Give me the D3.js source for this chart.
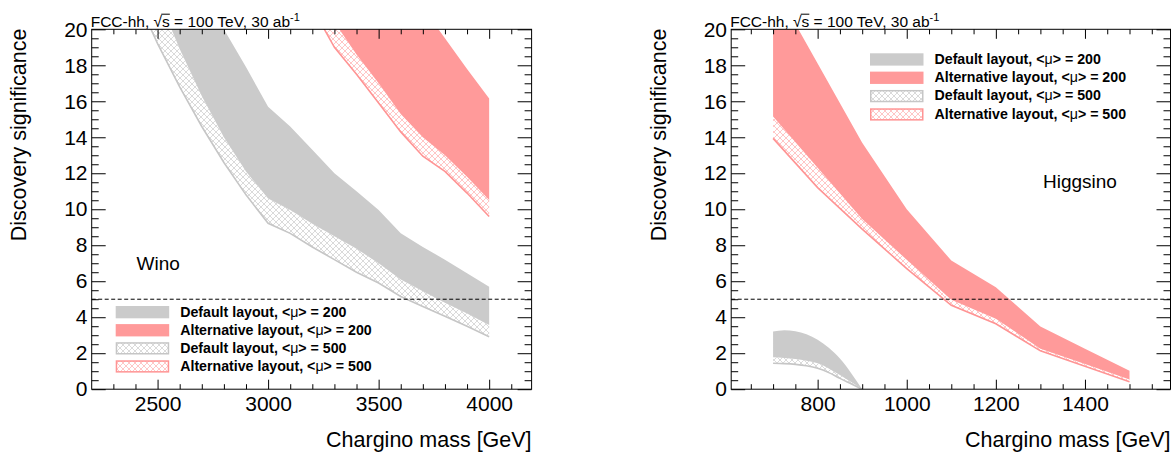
<!DOCTYPE html>
<html><head><meta charset="utf-8">
<script src="https://cdn.jsdelivr.net/npm/d3@7"></script>
<style>
body{margin:0;background:#fff}
svg{display:block}
text{font-family:"Liberation Sans",Arial,Helvetica,sans-serif;fill:#000}
</style>
</head><body>
<svg id="c" width="1174" height="454"></svg>
<script>
// ---------------- data ----------------
// Wino, default layout
const winoMassDef   = [2400,2500,2600,2700,2800,2900,3000,3100,3200,3300,3400,3500,3600,3700,3800,3900,4000];
const wino200DefHi  = [31.0,28.0,25.2,22.5,20.0,17.9,15.7,14.6,13.3,12.0,11.0,9.96,8.66,7.9,7.2,6.45,5.7];
const wino200DefLo  = [25.2,21.9,18.9,16.3,14.0,12.1,10.6,9.96,9.2,8.5,7.8,7.0,6.1,5.45,4.8,4.2,3.57];
const wino500DefLo  = [21.9,19.2,16.8,14.6,12.6,10.8,9.22,8.66,7.9,7.2,6.5,5.9,5.15,4.6,4.05,3.5,2.92];
// Wino, alternative layout
const winoMassAlt   = [3100,3200,3300,3400,3500,3600,3700,3800,3900,4000];
const wino200AltHi  = [29.5,27.8,26.1,24.4,22.8,22.0,21.2,19.5,17.8,16.16];
const wino200AltLo  = [24.5,22.2,20.4,18.6,17.0,15.3,14.0,13.0,11.8,10.51];
const wino500AltLo  = [23.3,21.2,19.0,17.5,15.9,14.3,12.95,12.1,10.9,9.6];
// Higgsino, default layout
const higgsMassDef  = [700,725,750,775,800,825,850,875,900];
const higgs200DefHi = [3.2,3.27,3.22,3.05,2.75,2.3,1.7,0.9,0];
const higgs200DefLo = [1.77,1.74,1.68,1.58,1.44,1.15,0.79,0.4,0];
const higgs500DefLo = [1.44,1.42,1.38,1.3,1.16,0.92,0.6,0.3,0];
// Higgsino, alternative layout
const higgsMassAlt  = [700,800,900,1000,1100,1200,1300,1400,1500];
const higgs200AltHi = [22.5,18.1,13.7,10.0,7.15,5.67,3.49,2.25,1.02];
const higgs200AltLo = [15.16,12.3,9.46,7.19,4.97,3.92,2.25,1.4,0.54];
const higgs500AltLo = [13.94,11.2,8.9,6.7,4.66,3.64,2.13,1.27,0.41];

const yMajorTicks   = [0,2,4,6,8,10,12,14,16,18,20];
const winoXTicks    = [2500,3000,3500,4000];
const higgsXTicks   = [800,1000,1200,1400];
const discoveryLine = 5;
const legendLabels  = ["Default layout, <μ> = 200","Alternative layout, <μ> = 200","Default layout, <μ> = 500","Alternative layout, <μ> = 500"];
const xTitle = "Chargino mass [GeV]";
const yTitle = "Discovery significance";

// ---------------- style ----------------
const GRAY="#cbcbcb", RED="#ff9a9a", GRAYHATCH="#d0d0d0", REDHATCH="#ffb8b8", GRAYLINE="#c6c6c6", REDLINE="#ff9494";
const FONT='"Liberation Sans",Arial,Helvetica,sans-serif';
const YTOP=29.3, YBOT=389.2;

const svg = d3.select("#c");
const defs = svg.append("defs");
function hatch(id, color){
  const p = defs.append("pattern").attr("id",id).attr("patternUnits","userSpaceOnUse")
    .attr("width",6).attr("height",6);
  p.append("path").attr("d","M-1,-1L7,7M-1,7L7,-1").attr("stroke",color)
    .attr("stroke-width",0.8).attr("fill","none");
}
hatch("hG",GRAYHATCH); hatch("hR",REDHATCH);

function panel(cfg){
  const x = d3.scaleLinear().domain(cfg.domain).range([cfg.left,cfg.right]);
  const y = d3.scaleLinear().domain([0,20]).range([YBOT,YTOP]);
  const g = svg.append("g");
  const clipId = "clip"+cfg.id;
  defs.append("clipPath").attr("id",clipId).append("rect")
    .attr("x",cfg.left).attr("y",YTOP).attr("width",cfg.right-cfg.left).attr("height",YBOT-YTOP);
  const plot = g.append("g").attr("clip-path",`url(#${clipId})`);

  cfg.series.forEach(s=>{
    const pts = s.mass.map((m,i)=>({m,hi:s.hi[i],lo:s.lo[i],lo5:s.lo5[i]}));
    const curve = s.smooth ? d3.curveMonotoneX : d3.curveLinear;
    plot.append("path").datum(pts)
      .attr("d",d3.area().x(d=>x(d.m)).y0(d=>y(d.lo5)).y1(d=>y(d.lo)).curve(curve))
      .attr("fill",`url(#${s.hatch})`);
    plot.append("path").datum(pts)
      .attr("d",d3.line().x(d=>x(d.m)).y(d=>y(d.lo5)).curve(curve))
      .attr("fill","none").attr("stroke",s.line).attr("stroke-width",1.6);
    plot.append("path").datum(pts)
      .attr("d",d3.area().x(d=>x(d.m)).y0(d=>y(d.lo)).y1(d=>y(d.hi)).curve(curve))
      .attr("fill",s.fill);
  });

  // 5 sigma line
  g.append("line").attr("x1",cfg.left).attr("x2",cfg.right)
    .attr("y1",y(discoveryLine)).attr("y2",y(discoveryLine))
    .attr("stroke","#000").attr("stroke-width",1).attr("stroke-dasharray","4,2.5");

  // axes
  const yMinor = d3.range(0,20.001,0.5).filter(v=>v%2!==0);
  const xMinor = d3.range(cfg.minorStart,cfg.domain[1],cfg.minorStep).filter(v=>!cfg.xTicks.includes(v));
  function style(sel){
    sel.select(".domain").remove();
    sel.attr("font-family",FONT).attr("font-size",21);
    sel.selectAll("line").attr("stroke","#000");
    sel.selectAll("text").attr("fill","#000");
  }
  g.append("g").attr("transform",`translate(0,${YBOT})`)
    .call(d3.axisBottom(x).tickValues(cfg.xTicks).tickSize(-9.5).tickPadding(7).tickFormat(d3.format("d"))).call(style);
  g.append("g").attr("transform",`translate(0,${YBOT})`)
    .call(d3.axisBottom(x).tickValues(xMinor).tickSize(-5).tickFormat("")).call(style);
  g.append("g").attr("transform",`translate(0,${YTOP})`)
    .call(d3.axisTop(x).tickValues(cfg.xTicks).tickSize(-9.5).tickFormat("")).call(style);
  g.append("g").attr("transform",`translate(0,${YTOP})`)
    .call(d3.axisTop(x).tickValues(xMinor).tickSize(-5).tickFormat("")).call(style);
  g.append("g").attr("transform",`translate(${cfg.left},0)`)
    .call(d3.axisLeft(y).tickValues(yMajorTicks).tickSize(-14).tickPadding(4.2).tickFormat(d3.format("d"))).call(style);
  g.append("g").attr("transform",`translate(${cfg.left},0)`)
    .call(d3.axisLeft(y).tickValues(yMinor).tickSize(-7).tickFormat("")).call(style);
  g.append("g").attr("transform",`translate(${cfg.right},0)`)
    .call(d3.axisRight(y).tickValues(yMajorTicks).tickSize(-14).tickFormat("")).call(style);
  g.append("g").attr("transform",`translate(${cfg.right},0)`)
    .call(d3.axisRight(y).tickValues(yMinor).tickSize(-7).tickFormat("")).call(style);

  g.append("rect").attr("x",cfg.left).attr("y",YTOP).attr("width",cfg.right-cfg.left)
    .attr("height",YBOT-YTOP).attr("fill","none").attr("stroke","#000").attr("stroke-width",1);

  // titles
  g.append("text").attr("x",cfg.right).attr("y",447).attr("text-anchor","end")
    .attr("font-size",21.5).text(xTitle);
  g.append("text").attr("transform",`translate(${cfg.left-65.5},28.5) rotate(-90)`)
    .attr("text-anchor","end").attr("font-size",21.5).text(yTitle);

  // header
  const ht = g.append("text").attr("x",cfg.left-1).attr("y",26.5).attr("font-size",15.5);
  ht.append("tspan").text("FCC-hh, √s = 100 TeV, 30 ab");
  ht.append("tspan").attr("dy",-6).attr("font-size",11).text("-1");
  const node = ht.node();
  try{
    const r = node.getExtentOfChar(8), s = node.getExtentOfChar(9);
    g.append("line").attr("x1",r.x+r.width-0.8).attr("x2",s.x+s.width)
      .attr("y1",26.5-12.3).attr("y2",26.5-12.3).attr("stroke","#000").attr("stroke-width",1);
  }catch(e){}

  // label
  g.append("text").attr("x",cfg.labelX).attr("y",cfg.labelY).attr("font-size",19).text(cfg.label);

  // legend
  const lg = g.append("g");
  const kinds = [
    {fill:GRAY,stroke:null},{fill:RED,stroke:null},
    {fill:"url(#hG)",stroke:GRAYLINE},{fill:"url(#hR)",stroke:REDLINE}];
  legendLabels.forEach((lab,i)=>{
    const top = cfg.legY + i*cfg.legStep;
    const k = kinds[i];
    const r = lg.append("rect").attr("x",cfg.legX).attr("y",top).attr("width",53.5).attr("height",12.3)
      .attr("fill",k.fill);
    if(k.stroke) r.attr("stroke",k.stroke).attr("stroke-width",1.5).attr("x",cfg.legX+0.75).attr("y",top+0.75)
      .attr("width",52).attr("height",10.8);
    const t = lg.append("text").attr("x",cfg.legX+64.5).attr("y",top+10.5).attr("font-size",14.2).attr("font-weight","bold");
    const parts = lab.split("μ");
    t.append("tspan").text(parts[0]);
    t.append("tspan").attr("font-weight","normal").text("μ");
    t.append("tspan").text(parts[1]);
  });
}

panel({id:"L",left:91.7,right:531.6,domain:[2202,4192],xTicks:winoXTicks,minorStart:2300,minorStep:100,
  label:"Wino",labelX:136.5,labelY:270,legX:115.7,legY:306,legStep:18.1,
  series:[
    {mass:winoMassDef,hi:wino200DefHi,lo:wino200DefLo,lo5:wino500DefLo,fill:GRAY,hatch:"hG",line:GRAYLINE},
    {mass:winoMassAlt,hi:wino200AltHi,lo:wino200AltLo,lo5:wino500AltLo,fill:RED,hatch:"hR",line:REDLINE}
  ]});
panel({id:"R",left:731.2,right:1170.5,domain:[606,1592],xTicks:higgsXTicks,minorStart:650,minorStep:50,
  label:"Higgsino",labelX:1043,labelY:187.7,legX:870,legY:53.3,legStep:18.33,
  series:[
    {mass:higgsMassDef,hi:higgs200DefHi,lo:higgs200DefLo,lo5:higgs500DefLo,fill:GRAY,hatch:"hG",line:GRAYLINE,smooth:true},
    {mass:higgsMassAlt,hi:higgs200AltHi,lo:higgs200AltLo,lo5:higgs500AltLo,fill:RED,hatch:"hR",line:REDLINE}
  ]});
</script>
</body></html>
